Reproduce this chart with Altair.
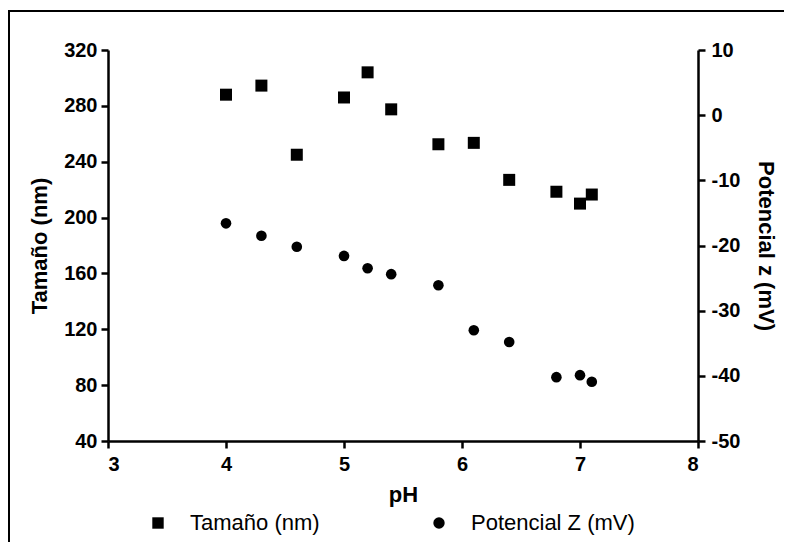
import altair as alt
import pandas as pd

# ---- data ----
ph = [4.0, 4.3, 4.6, 5.0, 5.2, 5.4, 5.8, 6.1, 6.4, 6.8, 7.0, 7.1]
tamano = [288, 294.5, 245, 286, 304, 277.5, 252.5, 253.5, 227, 218.5, 210, 216.5]
potencial = [-16.6, -18.5, -20.2, -21.6, -23.5, -24.4, -26.1, -33.0, -34.8, -40.2, -39.9, -40.9]
series = ["Tamaño (nm)", "Potencial Z (mV)"]
x_ticks = [3, 4, 5, 6, 7, 8]
left_ticks = [40, 80, 120, 160, 200, 240, 280, 320]
right_ticks = [-50, -40, -30, -20, -10, 0, 10]

FONT = "Liberation Sans"
HYPHEN_LABEL = "datum.value < 0 ? '-' + abs(datum.value) : '' + datum.value"

df_t = pd.DataFrame({"pH": ph, "valor": tamano, "serie": series[0]})
df_p = pd.DataFrame({"pH": ph, "valor": potencial, "serie": series[1]})

x_enc = alt.X("pH:Q", title="pH",
              scale=alt.Scale(domain=[3, 8], nice=False, zero=False),
              axis=alt.Axis(values=x_ticks, format="d", labelPadding=6, titlePadding=10))

shape_scale = alt.Scale(domain=series, range=["square", "circle"])

legend = alt.Legend(title=None, orient="none", direction="horizontal",
                    legendX=39, legendY=462, padding=0,
                    symbolSize=130, symbolFillColor="black", symbolStrokeColor="black",
                    symbolOpacity=1, labelFont=FONT, labelFontSize=22,
                    labelFontWeight="normal", labelColor="black", labelLimit=400,
                    labelOffset=21, columnPadding=108)

tam_layer = alt.Chart(df_t).mark_point(filled=True, color="black", opacity=1, size=144).encode(
    x=x_enc,
    y=alt.Y("valor:Q", title="Tamaño (nm)",
            scale=alt.Scale(domain=[40, 320], nice=False, zero=False),
            axis=alt.Axis(orient="left", values=left_ticks, labelPadding=4, titlePadding=12)),
    shape=alt.Shape("serie:N", scale=shape_scale, legend=legend),
)

pot_layer = alt.Chart(df_p).mark_point(filled=True, color="black", opacity=1, size=113).encode(
    x=x_enc,
    y=alt.Y("valor:Q", title="Potencial z (mV)",
            scale=alt.Scale(domain=[-50, 10], nice=False, zero=False),
            axis=alt.Axis(orient="right", values=right_ticks, labelExpr=HYPHEN_LABEL,
                          labelPadding=6, titlePadding=14)),
    shape=alt.Shape("serie:N", scale=shape_scale, legend=legend),
)

frame = alt.Chart(alt.Data(values=[{}])).mark_rect(
    fillOpacity=0, stroke="black", strokeWidth=2
).encode(
    x=alt.value(-99), x2=alt.value(700),
    y=alt.value(-39), y2=alt.value(600),
)

chart = alt.layer(tam_layer, pot_layer, frame).resolve_scale(
    y="independent"
).properties(
    width=590, height=391,
    autosize=alt.AutoSizeParams(type="none"),
    padding={"left": 100, "top": 42, "right": 86, "bottom": 101},
    background="white",
).configure_view(
    strokeWidth=0
).configure_axis(
    grid=False,
    domainColor="black", domainWidth=2.5,
    tickColor="black", tickWidth=2.5, tickSize=7,
    labelFont=FONT, labelFontSize=20, labelFontWeight="bold", labelColor="black",
    titleFont=FONT, titleFontSize=22, titleFontWeight="bold", titleColor="black",
)

chart.save("out.html", embed_options={"renderer": "svg", "actions": False})
